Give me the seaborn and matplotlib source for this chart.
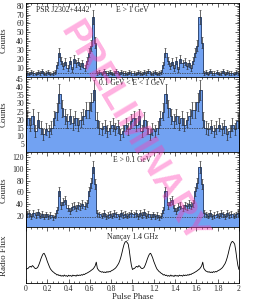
import numpy as np
import pandas as pd
import seaborn as sns
import matplotlib
matplotlib.use("Agg")
import matplotlib.pyplot as plt
from matplotlib.ticker import AutoMinorLocator, MultipleLocator

sns.set_theme(style="ticks")
plt.rcParams["font.family"] = ["Liberation Serif", "DejaVu Serif"]

# counts per phase bin over one rotation (shown twice)
hi_counts = [4, 3, 5, 4, 3, 5, 4, 6, 3, 4, 5, 3, 4, 5,
             13, 27, 18, 12, 17, 10, 18, 8, 20, 15, 17, 12, 15, 10,
             18, 27, 35, 67, 38, 4,
             5, 3, 6, 4, 4, 5, 3, 4, 6, 3, 5, 4, 4, 3, 5, 4]
mid_counts = [21, 17, 22, 13, 20, 15, 11, 14, 13, 15,
              21, 25, 36, 27, 22, 19, 22, 18, 21, 17,
              20, 22, 26, 26, 31, 38, 20, 15, 14, 16,
              13, 15, 17, 14, 16, 11, 13, 17, 14, 19]
all_counts = [22, 25, 19, 24, 21, 26, 20, 23, 18, 22, 19, 21, 17, 20,
              30, 62, 38, 44, 47, 33, 28, 35, 37, 33, 38, 36, 40, 37,
              41, 62, 76, 104, 74, 24,
              22, 20, 24, 19, 21, 23, 20, 25, 22, 19, 24, 21, 23, 20, 22, 25]
backgrounds = [3.9, 15.1, 18.2]

# radio profile, phase step 0.01
radio_flux = [14, 14.8, 15.2, 16.5, 17.2, 16.4, 18, 17.1, 15.6, 14.9,
              15.3, 16.2, 18.6, 21.5, 24.8, 27.6, 29.8, 30.5, 28.4, 25.7,
              22.3, 19.4, 16.8, 14.5, 13.2, 11.9, 11.2, 10.1, 9.6, 8.4,
              8.9, 7.8, 8.3, 7.2, 7.9, 7.1, 8.4, 7.3, 7.8, 6.9,
              8.2, 7.4, 7.9, 7.0, 8.3, 7.6, 8.0, 7.2, 8.5, 7.7,
              8.4, 7.9, 8.8, 8.2, 9.3, 8.9, 9.9, 10.2, 10.8, 11.5,
              12.1, 12.9, 13.8, 14.6, 16.0, 17.8, 21.5, 15.2, 13.6, 12.4,
              12.0, 11.3, 11.8, 10.9, 11.5, 10.8, 11.9, 11.2, 12.0, 11.6,
              12.6, 13.1, 13.7, 14.6, 15.4, 16.7, 18.3, 20.1, 22.8, 26.2,
              30.4, 35.1, 39.2, 41.8, 42.6, 41.5, 39.8, 33.5, 25.2, 18.1]

labels = ["E > 1 GeV", "0.1 GeV < E < 1 GeV", "E > 0.1 GeV"]
yticks = [range(10, 81, 10), range(5, 46, 5), range(20, 121, 20)]
ylims = [83, 46.5, 129]
label_y = [0.9, 0.92, 0.89]

fill_c = "#72a2f2"
edge_c = "#1e3560"

fig, axes = plt.subplots(4, 1, figsize=(2.6, 3.02), dpi=100, sharex=True,
                         gridspec_kw=dict(height_ratios=[73.5, 75.5, 75, 56], hspace=0))
fig.subplots_adjust(left=0.1, right=0.919, top=0.99, bottom=0.062)

for ax, counts, bg, lab, yt, ymax, ly in zip(axes[:3], [hi_counts, mid_counts, all_counts],
                                            backgrounds, labels, yticks, ylims, label_y):
    c = np.array(counts + counts, dtype=float)
    n = len(c)
    edges = np.linspace(0, 2, n + 1)
    centers = (edges[:-1] + edges[1:]) / 2
    df = pd.DataFrame({"phase": centers, "counts": c})
    sns.histplot(data=df, x="phase", weights="counts", bins=n, binrange=(0, 2),
                 element="step", fill=True, color=fill_c, alpha=1,
                 edgecolor=edge_c, linewidth=0.6, ax=ax)
    ax.errorbar(centers, c, yerr=np.sqrt(c), fmt="none", ecolor="#2a2a2a",
                elinewidth=0.5, capsize=0.8, capthick=0.4)
    ax.axhline(bg, color="#333333", lw=0.5, ls=(0, (2, 1.5)))
    ax.set_ylim(0, ymax)
    ax.set_yticks(list(yt))
    ax.yaxis.set_minor_locator(AutoMinorLocator(5))
    ax.set_ylabel("Counts", fontsize=6.5)
    ax.text(0.5, ly, lab, transform=ax.transAxes, ha="center", va="center", fontsize=5.5)

axes[0].text(0.047, 0.9, "PSR J2302+4442", transform=axes[0].transAxes,
             ha="left", va="center", fontsize=5.5)

rad = np.array(radio_flux + radio_flux + radio_flux[:1])
phase = np.linspace(0, 2, len(rad))
sns.lineplot(x=phase, y=rad, color="black", lw=0.6, ax=axes[3])
axes[3].set_ylim(0, 57)
axes[3].set_yticks([])
axes[3].set_ylabel("Radio Flux", fontsize=6.5)
axes[3].text(0.5, 0.83, "Nan\u00e7ay 1.4 GHz", transform=axes[3].transAxes,
             ha="center", va="center", fontsize=5.5)

for ax in axes:
    ax.set_xlim(0, 2)
    ax.xaxis.set_major_locator(MultipleLocator(0.2))
    ax.xaxis.set_minor_locator(AutoMinorLocator(4))
    ax.tick_params(which="both", direction="in", top=True, right=True,
                   labelsize=5.5, width=0.5, pad=1.5)
    ax.tick_params(which="major", length=3)
    ax.tick_params(which="minor", length=1.5)
    ax.yaxis.set_label_coords(-0.085, 0.5)
    for s in ax.spines.values():
        s.set_linewidth(0.6)
        s.set_color("black")

xt = np.round(np.arange(0, 2.01, 0.2), 1)
axes[3].set_xticks(xt)
axes[3].set_xticklabels([f"{v:g}" for v in xt])
axes[3].tick_params(axis="x", pad=1)
axes[3].set_xlabel("Pulse Phase", fontsize=6.2, labelpad=0)

fig.text(0.508, 0.56, "PRELIMINARY", rotation=-59, ha="center", va="center",
         fontsize=26.5, fontweight="bold", family="Liberation Sans",
         color="#ff3cb4", alpha=0.4, zorder=10)

fig.savefig("out.png", dpi=100)
